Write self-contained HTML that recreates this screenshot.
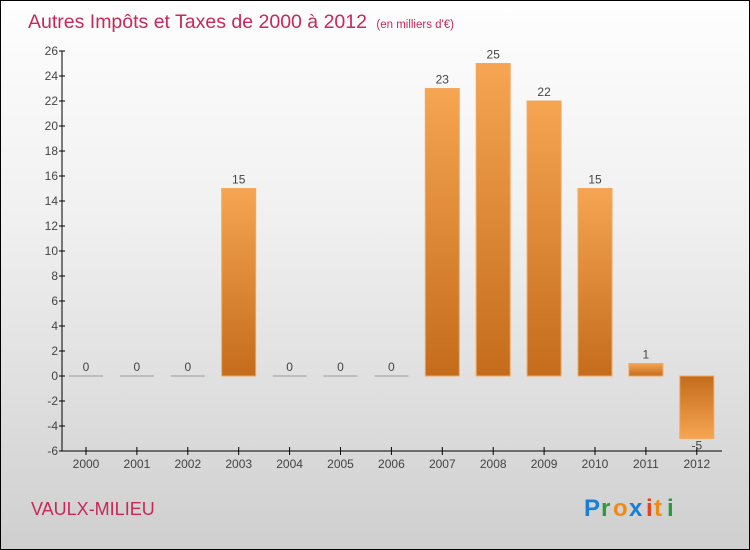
<!DOCTYPE html>
<html><head><meta charset="utf-8"><style>
body{margin:0}
#c{width:750px;height:550px;position:relative;overflow:hidden;box-sizing:border-box;border:1px solid #000;background:linear-gradient(#fefefe,#f0f0f0 40%,#cfcfcf);font-family:"Liberation Sans",sans-serif}
</style></head><body>
<div id="c">
<svg id="s" width="750" height="550" style="position:absolute;left:0;top:0">
<defs>
<linearGradient id="gp" x1="0" y1="0" x2="0" y2="1"><stop offset="0" stop-color="#f6a552"/><stop offset="1" stop-color="#c46c1c"/></linearGradient>
<linearGradient id="gn" x1="0" y1="0" x2="0" y2="1"><stop offset="0" stop-color="#c46c1c"/><stop offset="1" stop-color="#f6a552"/></linearGradient>
</defs>
<text x="27" y="27" font-size="19.5" fill="#c8285a">Autres Impôts et Taxes de 2000 à 2012 <tspan font-size="11.5" dx="4">(en milliers d'€)</tspan></text>
<text x="30" y="514" font-size="18" fill="#c8285a">VAULX-MILIEU</text>
<g font-size="24" font-weight="bold">
<text x="583" y="515" fill="#1a7fd4">P</text><text x="600" y="515" fill="#2a9a3a">r</text><text x="612" y="515" fill="#f08a10">o</text><text x="628" y="515" fill="#1a7fd4">x</text><text x="645" y="515" fill="#e8401a">i</text><text x="653" y="515" fill="#f08a10">t</text><text x="666" y="515" fill="#2a9a3a">i</text>
</g>
<g id="g"></g>
</svg>
</div>
<script>
const categories=["2000","2001","2002","2003","2004","2005","2006","2007","2008","2009","2010","2011","2012"];
const values=[0,0,0,15,0,0,0,23,25,22,15,1,-5];
const yTicks=[-6,-4,-2,0,2,4,6,8,10,12,14,16,18,20,22,24,26];
const NS="http://www.w3.org/2000/svg";
const g=document.getElementById('g');
const y=v=>375-v*12.5;
const x=i=>85+i*50.9;
function mk(t,a){const e=document.createElementNS(NS,t);for(const k in a)e.setAttribute(k,a[k]);g.appendChild(e);return e;}
let ax=mk('line',{x1:61,y1:50,x2:61,y2:450,stroke:'#000'});


let xx=mk('line',{x1:61,y1:450,x2:721,y2:450,stroke:'#000'});


yTicks.forEach(v=>{
 mk('line',{x1:58,x2:64,y1:y(v),y2:y(v),stroke:'#000'});
 const t=mk('text',{x:57,y:y(v)+4,'text-anchor':'end','font-size':12,fill:'#444'});t.textContent=v;
 
 
});
categories.forEach((c,i)=>{
 const cx=x(i),v=values[i];
 mk('line',{x1:cx,x2:cx,y1:446,y2:454,stroke:'#000'});
 const t=mk('text',{x:cx,y:467,'text-anchor':'middle','font-size':12,fill:'#444'});t.textContent=c;
 
 
 let b;
 if(v===0){b=mk('line',{x1:cx-17,x2:cx+17,y1:375,y2:375,stroke:'#999'});}
 else{const top=Math.min(y(v),y(0)),h=Math.abs(y(v)-y(0));
  b=mk('rect',{x:cx-17,y:top,width:34,height:h,fill:v>0?'url(#gp)':'url(#gn)',stroke:'#f2a860','stroke-width':1});}
 
 
 const l=mk('text',{x:cx,y:v>=0?y(v)-5:y(v)+11,'text-anchor':'middle','font-size':12,fill:'#444'});l.textContent=v;
 
 
});
</script>
</body></html>
